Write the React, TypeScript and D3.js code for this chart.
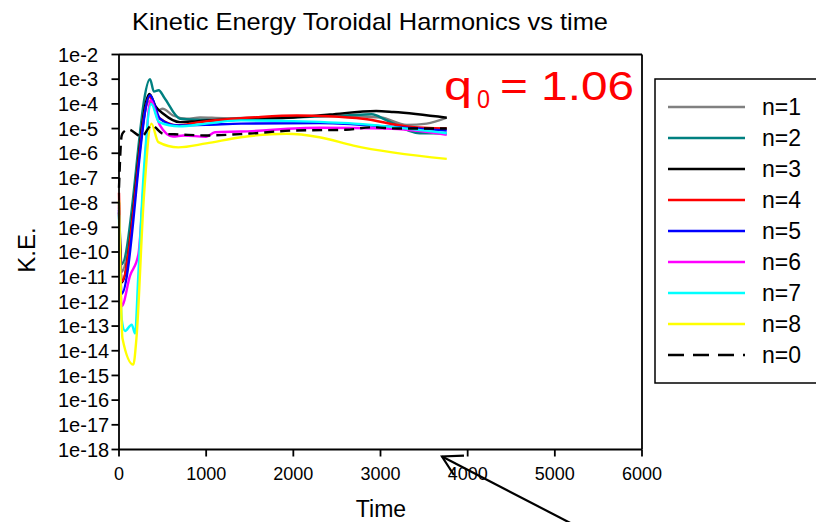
import React from "react";
import * as d3 from "d3";

// Tick labels
const xTicks = [0, 1000, 2000, 3000, 4000, 5000, 6000];
const yExponents = [-2, -3, -4, -5, -6, -7, -8, -9, -10, -11, -12, -13, -14, -15, -16, -17, -18];

// Series: time and log10(K.E.)
const n1Time = [0, 30, 345, 400, 450, 500, 620, 780, 930, 1200, 1600, 2000, 2500, 3000, 3300, 3530, 3760];
const n1LogKE = [-8.2, -10.8, -3.9, -4.1, -4.26, -4.2, -4.47, -4.6, -4.55, -4.58, -4.55, -4.5, -4.48, -4.55, -4.85, -4.8, -4.56];

const n2Time = [0, 30, 356, 400, 455, 520, 700, 870, 1200, 1600, 2000, 2600, 2900, 3070, 3450, 3760];
const n2LogKE = [-8.0, -10.5, -3.0, -3.5, -3.45, -3.75, -4.6, -4.64, -4.66, -4.6, -4.55, -4.47, -4.42, -4.67, -5.19, -5.2];

const n3Time = [0, 30, 348, 420, 508, 700, 900, 1400, 2000, 2420, 2950, 3150, 3760];
const n3LogKE = [-8.4, -11.24, -3.6, -4.1, -4.4, -4.74, -4.7, -4.6, -4.55, -4.43, -4.29, -4.33, -4.56];

const n4Time = [0, 30, 352, 450, 680, 900, 1580, 2040, 2400, 2800, 3300, 3760];
const n4LogKE = [-7.6, -11.2, -3.72, -4.54, -4.87, -4.75, -4.54, -4.47, -4.5, -4.6, -4.91, -5.0];

const n5Time = [0, 30, 356, 470, 660, 1000, 1400, 2300, 3000, 3760];
const n5LogKE = [-8.3, -11.7, -3.65, -4.6, -4.87, -4.85, -4.8, -4.78, -4.9, -5.08];

const n6Time = [0, 30, 126, 222, 279, 360, 470, 620, 740, 1000, 1100, 1400, 2300, 3070, 3760];
const n6LogKE = [-8.1, -12.2, -10.97, -10.1, -7.5, -3.85, -4.87, -5.32, -5.28, -5.33, -5.15, -5.12, -4.97, -5.0, -5.25];

const n7Time = [0, 30, 69, 146, 184, 222, 280, 370, 460, 690, 1000, 1400, 2000, 2700, 3760];
const n7LogKE = [-8.5, -12.7, -13.2, -12.94, -13.3, -10.9, -7.0, -4.0, -4.74, -4.91, -4.8, -4.67, -4.7, -4.8, -5.19];

const n8Time = [0, 40, 164, 200, 285, 372, 451, 680, 1000, 1400, 1920, 2300, 2690, 3760];
const n8LogKE = [-7.9, -13.5, -14.56, -13.5, -7.8, -4.8, -5.55, -5.76, -5.6, -5.35, -5.21, -5.35, -5.69, -6.23];

const n0Time = [0, 30, 50, 107, 260, 375, 508, 700, 1000, 1500, 2000, 2600, 2900, 3200, 3760];
const n0LogKE = [-7.4, -5.3, -5.15, -5.04, -5.32, -4.87, -5.21, -5.24, -5.28, -5.2, -5.08, -5.05, -4.95, -5.0, -5.0];

const seriesNames = ["n=1", "n=2", "n=3", "n=4", "n=5", "n=6", "n=7", "n=8", "n=0"];
const seriesColors = ["#808080", "#008080", "#000000", "#ff0000", "#0000ff", "#ff00ff", "#00ffff", "#ffff00", "#000000"];
const seriesTimes = [n1Time, n2Time, n3Time, n4Time, n5Time, n6Time, n7Time, n8Time, n0Time];
const seriesLogs = [n1LogKE, n2LogKE, n3LogKE, n4LogKE, n5LogKE, n6LogKE, n7LogKE, n8LogKE, n0LogKE];

const FONT = "'Liberation Sans', Arial, sans-serif";

export default function App() {
  const W = 816, H = 522;
  const left = 119, right = 642, top = 54.5, bottom = 449.5;
  const x = d3.scaleLinear().domain([0, 6000]).range([left, right]);
  const y = d3.scaleLog().domain([1e-18, 1e-2]).range([bottom, top]);
  const line = d3.line<[number, number]>().x(d => x(d[0])).y(d => y(d[1])).curve(d3.curveMonotoneX);

  const paths = seriesNames.map((name, i) => {
    const pts: [number, number][] = seriesTimes[i].map((t, j) => [t, Math.pow(10, seriesLogs[i][j])]);
    return { name, color: seriesColors[i], d: line(pts) || "", dashed: name === "n=0" };
  });

  // arrow geometry
  const tip = [442, 456.5];
  const tail = [580, 528];
  const ang = Math.atan2(tail[1] - tip[1], tail[0] - tip[0]);
  const armLen = 22;
  const a1 = [tip[0] + armLen * Math.cos(ang - 0.52), tip[1] + armLen * Math.sin(ang - 0.52)];
  const a2 = [tip[0] + armLen * Math.cos(ang + 0.52), tip[1] + armLen * Math.sin(ang + 0.52)];

  const legendY0 = 107, legendDy = 31;

  return (
    <svg width={W} height={H} style={{ position: "absolute", left: 0, top: 0, background: "#fff" }} fontFamily={FONT}>
      <rect x={0} y={0} width={W} height={H} fill="#fff" />
      <text x={370} y={30} fontSize={24} textAnchor="middle" fill="#000" textLength={476} lengthAdjust="spacingAndGlyphs">Kinetic Energy Toroidal Harmonics vs time</text>

      {/* data */}
      <g>
        {paths.map(p => (
          <path key={p.name} d={p.d} fill="none" stroke={p.color} strokeWidth={2.4}
            strokeDasharray={p.dashed ? "10,6" : undefined} strokeLinejoin="round" />
        ))}
      </g>

      {/* frame */}
      <g stroke="#000" strokeWidth={1.8} fill="none">
        <line x1={left} y1={top} x2={left} y2={bottom} />
        <line x1={left} y1={bottom} x2={right} y2={bottom} />
        <line x1={left} y1={top} x2={right} y2={top} />
        <line x1={right} y1={top} x2={right} y2={bottom} />
      </g>

      {/* y ticks */}
      {yExponents.map(e => (
        <g key={e}>
          <line x1={left - 7.5} x2={left} y1={y(Math.pow(10, e))} y2={y(Math.pow(10, e))} stroke="#000" strokeWidth={1.8} />
          <text x={58} y={y(Math.pow(10, e))} dy="0.36em" fontSize={20} fill="#000">{`1e${e}`}</text>
        </g>
      ))}

      {/* x ticks */}
      {xTicks.map(t => (
        <g key={t}>
          <line x1={x(t)} x2={x(t)} y1={bottom} y2={bottom + 7} stroke="#000" strokeWidth={1.8} />
          <text x={x(t)} y={479.5} fontSize={18} textAnchor="middle" fill="#000">{t}</text>
        </g>
      ))}

      <text x={381} y={517} fontSize={23} textAnchor="middle" fill="#000">Time</text>
      <text transform="translate(35,250) rotate(-90)" fontSize={24} textAnchor="middle" fill="#000">K.E.</text>

      {/* q0 annotation */}
      <text x={444} y={99.5} fontSize={40} fill="#ff0000" textLength={28} lengthAdjust="spacingAndGlyphs">q</text>
      <text x={477} y={108} fontSize={25} fill="#ff0000" textLength={13} lengthAdjust="spacingAndGlyphs">0</text>
      <text x={500} y={99.5} fontSize={40} fill="#ff0000" textLength={134} lengthAdjust="spacingAndGlyphs">= 1.06</text>

      {/* legend */}
      <rect x={655} y={79} width={180} height={304} fill="#fff" stroke="#000" strokeWidth={1.5} />
      {seriesNames.map((name, i) => {
        const ly = legendY0 + i * legendDy;
        return (
          <g key={name}>
            <line x1={668} x2={745} y1={ly} y2={ly} stroke={seriesColors[i]} strokeWidth={2.4}
              strokeDasharray={name === "n=0" ? "16,9" : undefined} />
            <text x={762} y={ly} dy="0.36em" fontSize={23} fill="#000">{name}</text>
          </g>
        );
      })}

      {/* arrow */}
      <g stroke="#000" strokeWidth={2.2} fill="none">
        <line x1={tip[0]} y1={tip[1]} x2={tail[0]} y2={tail[1]} />
        <polyline points={`${a1[0]},${a1[1]} ${tip[0]},${tip[1]} ${a2[0]},${a2[1]}`} />
      </g>
    </svg>
  );
}
